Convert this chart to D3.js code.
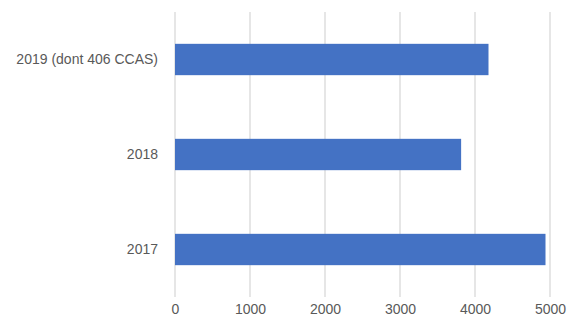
<!DOCTYPE html>
<html>
<head>
<meta charset="utf-8">
<script src="https://cdn.jsdelivr.net/npm/d3@7"></script>
<style>
  body { margin: 0; background: #fff; }
  svg text { font-family: "Liberation Sans", Arial, sans-serif; fill: #595959; }
</style>
</head>
<body>
<svg id="chart" width="574" height="325"></svg>
<script>
// Yearly totals, top to bottom as drawn
const categories = ["2019 (dont 406 CCAS)", "2018", "2017"];
const values = [4180, 3815, 4940];
const xTicks = [0, 1000, 2000, 3000, 4000, 5000];

const svg = d3.select("#chart");
const margin = { top: 12, right: 24, bottom: 28, left: 175 };
const W = 574, H = 325;

const x = d3.scaleLinear().domain([0, 5000]).range([margin.left, margin.left + 375]);
const y = d3.scaleBand().domain(categories).range([margin.top, H - margin.bottom]).paddingInner(0.67).paddingOuter(0.335);

// vertical gridlines
svg.append("g").selectAll("line").data(xTicks).join("line")
  .attr("x1", d => x(d)).attr("x2", d => x(d))
  .attr("y1", margin.top).attr("y2", H - margin.bottom)
  .attr("stroke", "#d9d9d9").attr("stroke-width", 1.3);

// bars
svg.append("g").selectAll("rect").data(values).join("rect")
  .attr("x", x(0))
  .attr("y", (d, i) => y(categories[i]))
  .attr("width", d => x(d) - x(0))
  .attr("height", y.bandwidth())
  .attr("fill", "#4472C4");

// x axis labels
const xAxis = d3.axisBottom(x).tickValues(xTicks).tickFormat(d3.format("d")).tickSize(0).tickPadding(7);
const gx = svg.append("g").attr("transform", `translate(0,${H - margin.bottom})`).call(xAxis);
gx.select(".domain").remove();
gx.selectAll("text").style("font-size", "14px").attr("fill", "#595959")
  .style("font-family", "'Liberation Sans', Arial, sans-serif");

// category labels
const yAxis = d3.axisLeft(y).tickSize(0).tickPadding(17);
const gy = svg.append("g").attr("transform", `translate(${margin.left},0)`).call(yAxis);
gy.select(".domain").remove();
gy.selectAll("text").style("font-size", "14px").attr("fill", "#595959")
  .style("font-family", "'Liberation Sans', Arial, sans-serif");
</script>
</body>
</html>
